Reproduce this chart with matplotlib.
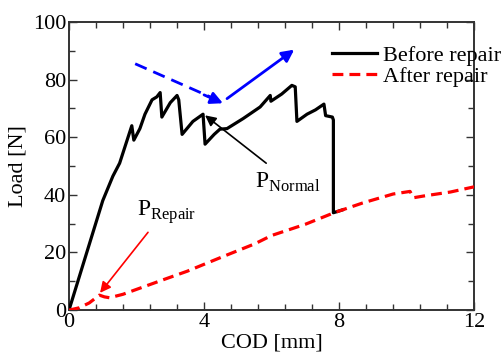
import matplotlib
matplotlib.use("Agg")
import matplotlib.pyplot as plt
from matplotlib.ticker import MultipleLocator

plt.rcParams["font.family"] = ["Liberation Serif", "DejaVu Serif"]
plt.rcParams["mathtext.fontset"] = "custom"
plt.rcParams["mathtext.rm"] = "Liberation Serif"
plt.rcParams["font.size"] = 16

# Before repair (black solid)
before_cod = [0, 1.0, 1.3, 1.5, 1.86, 1.92, 2.1, 2.25, 2.46,
              2.6, 2.7, 2.75, 2.9, 3.0, 3.2, 3.25, 3.35, 3.67, 3.85, 3.97, 4.03,
              4.3, 4.47, 4.68, 5.16, 5.66, 5.96, 5.98, 6.3, 6.6, 6.7, 6.75, 7.05,
              7.3, 7.55, 7.6, 7.8, 7.83, 7.83, 8.1]
before_load = [0, 38, 46.5, 51, 64, 59, 63, 68, 73,
               74, 75.5, 67, 70, 72, 74.5, 73, 61, 65.5, 67, 68, 57.6,
               61, 62.8, 63, 66.5, 70.5, 74.5, 72.5, 75, 78, 77.5, 65.5, 68,
               69.5, 71.5, 67.5, 67, 66, 33.8, 34.8]

# After repair (red dashed)
after_cod = [0, 0.3, 0.6, 0.9, 1.05, 1.2, 1.6, 2.0, 2.9, 3.5, 4.5, 5.5, 6.0, 7.0,
             7.85, 8.7, 9.6, 10.1, 10.2, 10.5, 10.9, 11.3, 12.0]
after_load = [0, 0.8, 2.5, 5.2, 4.6, 4.3, 5.5, 7.2, 11, 13.5, 18.3, 23, 25.9, 29.8,
              33.8, 37.2, 40.3, 41.2, 39, 39.6, 40.3, 41, 42.8]

fig = plt.figure(figsize=(5.01, 3.64), dpi=100)
ax = fig.add_axes([0.1377, 0.148, 0.8088, 0.7916])

ax.plot(before_cod, before_load, color="black", lw=2.3, label="Before repair",
        solid_joinstyle="round", zorder=3)
ax.plot(after_cod, after_load, color="red", lw=2.3, ls=(0, (3.4, 1.9)),
        label="After repair", zorder=4)

# blue arrows
ax.plot([1.96, 4.3], [85.5, 73.4], color="blue", lw=2.0, ls=(0, (4.5, 2.6)))
ax.annotate("", xy=(4.56, 71.8), xytext=(4.0, 74.7),
            arrowprops=dict(arrowstyle="-|>", color="blue", lw=2.0,
                            mutation_scale=18, shrinkA=0, shrinkB=0))
ax.annotate("", xy=(6.67, 90.4), xytext=(4.68, 73.4),
            arrowprops=dict(arrowstyle="-|>", color="blue", lw=2.0,
                            mutation_scale=18, shrinkA=0, shrinkB=0))

# P_Normal
ax.annotate("", xy=(4.03, 67.6), xytext=(5.84, 51),
            arrowprops=dict(arrowstyle="-|>", color="black", lw=1.2,
                            mutation_scale=16, shrinkA=0, shrinkB=0))
ax.text(5.5, 44.5, r"$\mathrm{P}_{\mathrm{Normal}}$", fontsize=17,
        ha="left", va="center")

# P_Repair
ax.annotate("", xy=(0.92, 6.0), xytext=(2.34, 27),
            arrowprops=dict(arrowstyle="-|>", color="red", lw=1.2,
                            mutation_scale=16, shrinkA=0, shrinkB=0))
ax.text(2.0, 34, r"$\mathrm{P}_{\mathrm{Repair}}$", fontsize=17,
        ha="left", va="center")

ax.set_xlim(0, 12)
ax.set_ylim(0, 100)
ax.xaxis.set_major_locator(MultipleLocator(4))
ax.xaxis.set_minor_locator(MultipleLocator(0.8))
ax.yaxis.set_major_locator(MultipleLocator(20))
ax.yaxis.set_minor_locator(MultipleLocator(10))
ax.tick_params(which="both", direction="in", top=True, right=True,
               color="#333333", width=1)
ax.tick_params(which="major", length=6, pad=2)
ax.tick_params(which="minor", length=4)
for s in ax.spines.values():
    s.set_color("#333333")
    s.set_linewidth(1.4)

ax.set_xlabel("COD [mm]", labelpad=1)
ax.set_ylabel("Load [N]", labelpad=4)

ax.legend(loc="upper left", bbox_to_anchor=(0.65, 0.92), frameon=False,
          handlelength=2.0, handletextpad=0.3, labelspacing=0.05,
          borderpad=0, borderaxespad=0, fontsize=16)

fig.savefig("out.png", dpi=100)
plt.close(fig)
